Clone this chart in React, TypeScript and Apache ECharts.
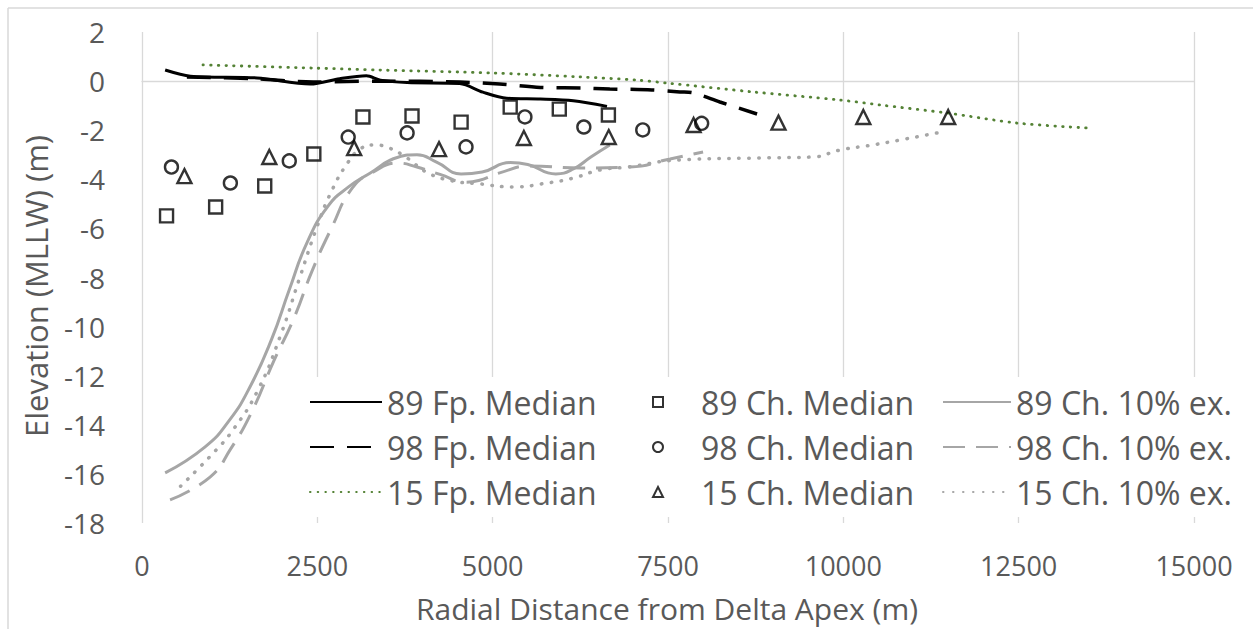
import React, { useEffect, useRef } from "react";
import * as echarts from "echarts";

// ---- data ----
const xTicks = [0, 2500, 5000, 7500, 10000, 12500, 15000];
const yTicks = [-18, -16, -14, -12, -10, -8, -6, -4, -2, 0, 2];

const fp89X = [330, 690, 1640, 2400, 2820, 3200, 3400, 3780, 4530, 4860, 5200, 5680, 6150, 6630];
const fp89Y = [0.45, 0.2, 0.13, -0.12, 0.1, 0.22, 0.04, -0.06, -0.1, -0.45, -0.7, -0.73, -0.8, -1.03];

const fp98X = [640, 1600, 2440, 3400, 4530, 5100, 5680, 6250, 6670, 7270, 7670, 7860, 8240, 8770];
const fp98Y = [0.17, 0.1, -0.04, 0.0, -0.04, -0.12, -0.26, -0.28, -0.32, -0.36, -0.44, -0.48, -0.85, -1.34];

const fp15X = [870, 2440, 3390, 4990, 6250, 7060, 7490, 8710, 9950, 10520, 11480, 12480, 13480];
const fp15Y = [0.66, 0.53, 0.45, 0.33, 0.17, 0.04, -0.08, -0.44, -0.77, -0.97, -1.3, -1.71, -1.91];

const ch89X = [350, 1050, 1750, 2450, 3150, 3850, 4550, 5250, 5950, 6650];
const ch89Y = [-5.49, -5.13, -4.27, -2.97, -1.46, -1.42, -1.67, -1.06, -1.14, -1.38];

const ch98X = [420, 1260, 2100, 2940, 3780, 4620, 5460, 6300, 7140, 7980];
const ch98Y = [-3.5, -4.15, -3.25, -2.28, -2.11, -2.68, -1.46, -1.87, -1.99, -1.72];

const ch15X = [605, 1815, 3025, 4235, 5445, 6655, 7865, 9075, 10285, 11495];
const ch15Y = [-3.87, -3.09, -2.73, -2.77, -2.32, -2.28, -1.79, -1.69, -1.46, -1.46];

const ex89X = [330, 900, 1250, 1550, 1850, 2100, 2350, 2650, 2950, 3250, 3650, 3920, 4200, 4550, 4850, 5250, 5500, 5900, 6150, 6400, 6670];
const ex89Y = [-15.96, -14.9, -13.8, -12.4, -10.5, -8.5, -6.6, -5.1, -4.3, -3.75, -3.1, -3.0, -3.3, -3.78, -3.7, -3.32, -3.4, -3.78, -3.58, -3.09, -2.6];

const ex98X = [400, 970, 1260, 1560, 1880, 2160, 2430, 2700, 3000, 3300, 3650, 3920, 4250, 4620, 4800, 5100, 5530, 6250, 6960, 7530, 8000];
const ex98Y = [-17.06, -16.13, -15.0, -13.5, -11.4, -9.7, -7.7, -6.0, -4.35, -3.7, -3.34, -3.5, -3.8, -4.12, -4.05, -3.74, -3.46, -3.54, -3.5, -3.17, -2.89];

const ex15X = [550, 1000, 1300, 1650, 1970, 2250, 2500, 2700, 2940, 3120, 3300, 3500, 3780, 4050, 4400, 4800, 5290, 5780, 6150, 6530, 6920, 7670, 8810, 9570, 9950, 10420, 10810, 11410];
const ex15Y = [-16.5, -15.2, -14.2, -12.6, -10.4, -8.0, -5.9, -4.5, -3.3, -2.75, -2.6, -2.7, -3.13, -3.7, -4.05, -4.18, -4.31, -4.15, -3.95, -3.62, -3.5, -3.21, -3.13, -3.09, -2.81, -2.6, -2.4, -2.07];

const names = {
  fp89: "89 Fp. Median",
  fp98: "98 Fp. Median",
  fp15: "15 Fp. Median",
  ch89: "89 Ch. Median",
  ch98: "98 Ch. Median",
  ch15: "15 Ch. Median",
  ex89: "89 Ch. 10% ex.",
  ex98: "98 Ch. 10% ex.",
  ex15: "15 Ch. 10% ex.",
};
const xTitle = "Radial Distance from Delta Apex (m)";
const yTitle = "Elevation (MLLW) (m)";

const zip = (xs: number[], ys: number[]) => xs.map((x, i) => [x, ys[i]]);

const FONT = "Open Sans";
const TXT = "#595959";
const GRID = "#d9d9d9";
const GRAY = "#a6a6a6";
const CLEAR = "rgba(0,0,0,0)";

function lineSeries(name: string, xs: number[], ys: number[], color: string, width: number, type: any, smooth: number, cap: string = "butt") {
  return {
    name,
    type: "line",
    data: zip(xs, ys),
    symbol: "none",
    showSymbol: false,
    smooth,
    lineStyle: { color, width, type, cap },
    itemStyle: { color },
    z: 2,
  };
}

function scatterSeries(name: string, xs: number[], ys: number[], symbol: string, size: number) {
  return {
    name,
    type: "scatter",
    data: zip(xs, ys),
    symbol,
    symbolSize: size,
    itemStyle: { color: CLEAR, borderColor: "#000", borderWidth: 2.4 },
    z: 3,
  };
}

const legendText = { fontFamily: FONT, fontSize: 32, color: TXT, lineHeight: 34 };

const legendBase = {
  orient: "vertical",
  itemGap: 11,
  itemHeight: 14,
  top: 377,
  backgroundColor: "#fff",
  padding: [8, 6],
  selectedMode: false,
  textStyle: legendText,
};

const lineLegendItemStyle = { color: CLEAR, borderColor: CLEAR, borderWidth: 0 };

const option: any = {
  animation: false,
  backgroundColor: "#fff",
  grid: { left: 142, right: 59, top: 32, bottom: 106 },
  xAxis: {
    type: "value",
    min: xTicks[0],
    max: xTicks[xTicks.length - 1],
    interval: 2500,
    axisLine: { show: true, lineStyle: { color: GRID, width: 1.3 } },
    axisTick: { show: false },
    splitLine: { show: true, lineStyle: { color: GRID, width: 1.3 } },
    axisLabel: { fontFamily: FONT, fontSize: 27, lineHeight: 27, color: TXT, margin: 29, formatter: (v: number) => String(v) },
  },
  yAxis: {
    type: "value",
    min: yTicks[0],
    max: yTicks[yTicks.length - 1],
    interval: 2,
    axisLine: { show: false },
    axisTick: { show: false },
    splitLine: { show: false },
    axisLabel: { fontFamily: FONT, fontSize: 28, color: TXT, margin: 37, formatter: (v: number) => String(v) },
  },
  legend: [
    { ...legendBase, left: 303, itemWidth: 72, itemStyle: lineLegendItemStyle, data: [names.fp89, names.fp98, names.fp15] },
    {
      ...legendBase,
      left: 646,
      itemWidth: 10,
      itemHeight: 10,
      itemStyle: { color: CLEAR, borderColor: "#000", borderWidth: 2 },
      textStyle: { ...legendText, padding: [0, 0, 0, 33] },
      data: [names.ch89, names.ch98, names.ch15],
    },
    { ...legendBase, left: 936, itemWidth: 68, itemStyle: lineLegendItemStyle, data: [names.ex89, names.ex98, names.ex15] },
  ],
  graphic: [
    { type: "line", shape: { x1: 8, y1: 8, x2: 1253, y2: 8 }, style: { stroke: GRID, lineWidth: 1.5 }, silent: true },
    { type: "line", shape: { x1: 8, y1: 8, x2: 8, y2: 629 }, style: { stroke: GRID, lineWidth: 1.5 }, silent: true },
    {
      type: "text",
      x: 667,
      y: 608,
      style: { text: xTitle, fontFamily: FONT, fontSize: 30, lineHeight: 30, fill: TXT, align: "center", verticalAlign: "middle" },
    },
    {
      type: "text",
      x: 36,
      y: 286,
      rotation: Math.PI / 2,
      style: { text: yTitle, fontFamily: FONT, fontSize: 31, fill: TXT, align: "center", verticalAlign: "middle" },
    },
  ],
  series: [
    lineSeries(names.ex89, ex89X, ex89Y, GRAY, 3, "solid", 0.5),
    lineSeries(names.ex98, ex98X, ex98Y, GRAY, 3, [22, 11], 0.5),
    lineSeries(names.ex15, ex15X, ex15Y, GRAY, 3.5, [0.5, 9.5], 0.5, "round"),
    lineSeries(names.fp89, fp89X, fp89Y, "#000", 3, "solid", 0.3),
    lineSeries(names.fp98, fp98X, fp98Y, "#000", 3.5, [24, 13], 0.3),
    lineSeries(names.fp15, fp15X, fp15Y, "#548235", 2.8, [0.5, 7.2], 0.3, "round"),
    scatterSeries(names.ch89, ch89X, ch89Y, "rect", 13),
    scatterSeries(names.ch98, ch98X, ch98Y, "circle", 13),
    scatterSeries(names.ch15, ch15X, ch15Y, "triangle", 14),
  ],
};

export default function App() {
  const ref = useRef<HTMLDivElement>(null);
  useEffect(() => {
    const chart = echarts.init(ref.current as HTMLDivElement, null, { renderer: "svg" });
    chart.setOption(option);
    return () => chart.dispose();
  }, []);
  return (
    <div
      ref={ref}
      style={{ position: "fixed", left: 0, top: 0, width: 1253, height: 629, background: "#fff" }}
    />
  );
}
